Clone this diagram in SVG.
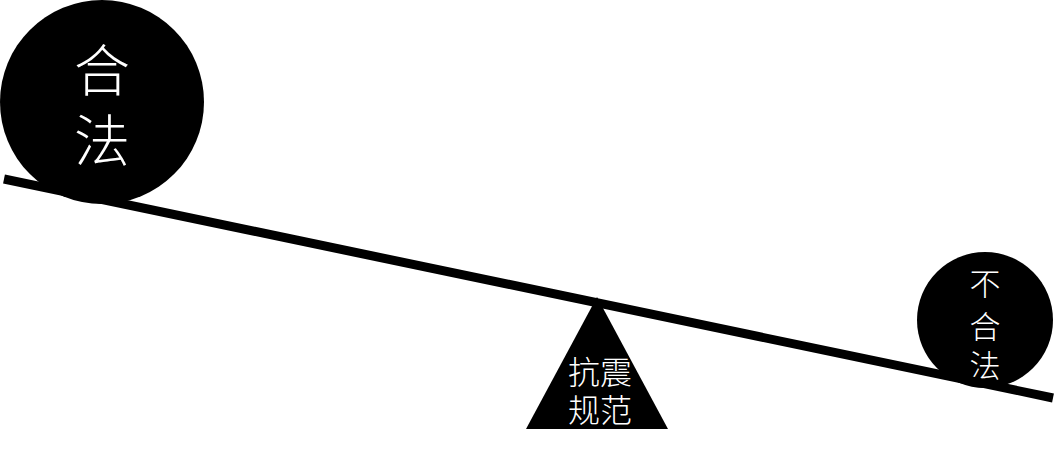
<svg xmlns="http://www.w3.org/2000/svg" width="1058" height="451" viewBox="0 0 1058 451">
<style>
.shape{fill:#000}
.lbl{fill:#fff;font-family:"Noto Sans CJK SC","Noto Sans",sans-serif;font-weight:300;text-anchor:middle;dominant-baseline:central}
</style>
<rect width="1058" height="451" fill="#fff"/>
<g id="node-legal">
<circle class="shape" cx="102" cy="102" r="102"/>
<text class="lbl" font-size="56"><tspan x="102" y="66">合</tspan><tspan x="102" y="136">法</tspan></text>
</g>
<g id="node-illegal">
<circle class="shape" cx="985" cy="320" r="68"/>
<text class="lbl" font-size="31"><tspan x="985" y="281">不</tspan><tspan x="985" y="324">合</tspan><tspan x="985" y="363">法</tspan></text>
</g>
<g id="node-code">
<polygon class="shape" points="597,297 668,429 526,429"/>
<text class="lbl" font-size="32"><tspan x="600" y="370">抗震</tspan><tspan x="600" y="408">规范</tspan></text>
</g>
<g id="connectors">
<line x1="4" y1="179" x2="1053" y2="398" stroke="#000" stroke-width="9"/>
</g>
</svg>
